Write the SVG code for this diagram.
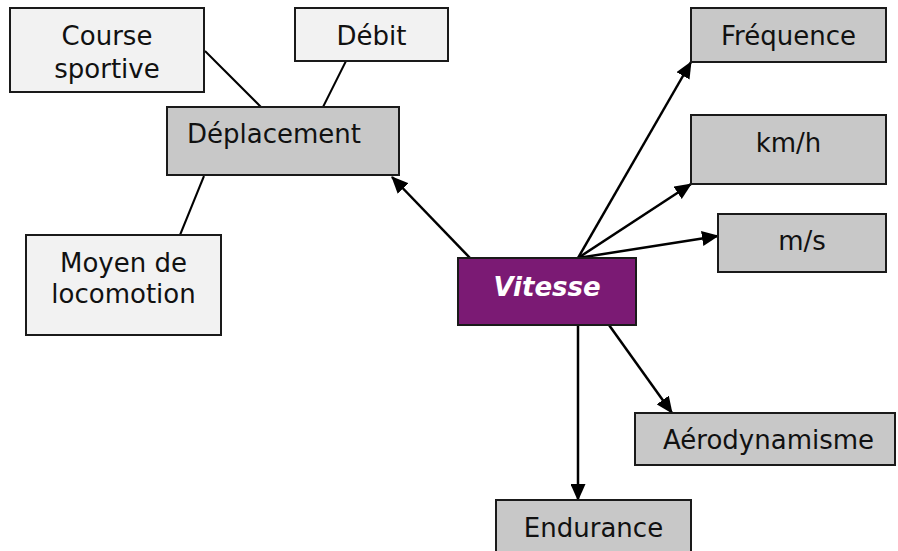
<svg xmlns="http://www.w3.org/2000/svg" width="898" height="551" viewBox="0 0 898 551">
<style>
.box{stroke:#1a1a1a;stroke-width:2}
.light{fill:#F2F2F2}
.gray{fill:#C8C8C8}
.t{font-family:"DejaVu Sans",Verdana,sans-serif;font-size:26px;fill:#111}
.c{text-anchor:middle}
.v{font-family:"DejaVu Sans",Verdana,sans-serif;font-size:26px;font-weight:bold;font-style:italic;fill:#fff;text-anchor:middle}
.ln{stroke:#000;stroke-width:2;fill:none}
.ar{stroke:#000;stroke-width:2.5;fill:none;marker-end:url(#ah)}
</style>
<defs>
<marker id="ah" markerWidth="17" markerHeight="15" refX="16" refY="7.5" orient="auto" markerUnits="userSpaceOnUse">
<path d="M0,0 L17,7.5 L0,15 Z" fill="#000"/>
</marker>
</defs>
<rect width="898" height="551" fill="#fff"/>
<g id="connectors">
<line class="ln" x1="205" y1="51" x2="261" y2="107"/>
<line class="ln" x1="346" y1="61" x2="323" y2="107"/>
<line class="ln" x1="204" y1="176" x2="180" y2="235"/>
<line class="ar" x1="470" y1="258" x2="392" y2="177"/>
<line class="ar" x1="578" y1="258" x2="691" y2="62"/>
<line class="ar" x1="578" y1="258" x2="691" y2="184"/>
<line class="ar" x1="578" y1="258" x2="718" y2="236"/>
<line class="ar" x1="609" y1="325" x2="672" y2="413"/>
<line class="ar" x1="578" y1="325" x2="578" y2="500"/>
</g>
<g id="course">
<rect class="box light" x="10" y="8" width="194" height="84"/>
<text class="t c" x="107" y="45">Course</text>
<text class="t c" x="107" y="78">sportive</text>
</g>
<g id="debit">
<rect class="box light" x="295" y="8" width="153" height="53"/>
<text class="t c" x="371.5" y="45">Débit</text>
</g>
<g id="deplacement">
<rect class="box gray" x="167" y="107" width="232" height="68"/>
<text class="t" x="187" y="143">Déplacement</text>
</g>
<g id="moyen">
<rect class="box light" x="26" y="235" width="195" height="100"/>
<text class="t c" x="123.5" y="272">Moyen de</text>
<text class="t c" x="123.5" y="303">locomotion</text>
</g>
<g id="vitesse">
<rect class="box" x="458" y="258" width="178" height="67" fill="#7B1A74"/>
<text class="v" x="547" y="296">Vitesse</text>
</g>
<g id="frequence">
<rect class="box gray" x="691" y="8" width="195" height="54"/>
<text class="t c" x="788.5" y="45">Fréquence</text>
</g>
<g id="kmh">
<rect class="box gray" x="691" y="115" width="195" height="69"/>
<text class="t c" x="788.5" y="152">km/h</text>
</g>
<g id="ms">
<rect class="box gray" x="718" y="214" width="168" height="58"/>
<text class="t c" x="802" y="250">m/s</text>
</g>
<g id="aerodynamisme">
<rect class="box gray" x="635" y="413" width="260" height="52"/>
<text class="t" x="663" y="449">Aérodynamisme</text>
</g>
<g id="endurance">
<rect class="box gray" x="496" y="500" width="195" height="60"/>
<text class="t c" x="593.5" y="537">Endurance</text>
</g>
</svg>
